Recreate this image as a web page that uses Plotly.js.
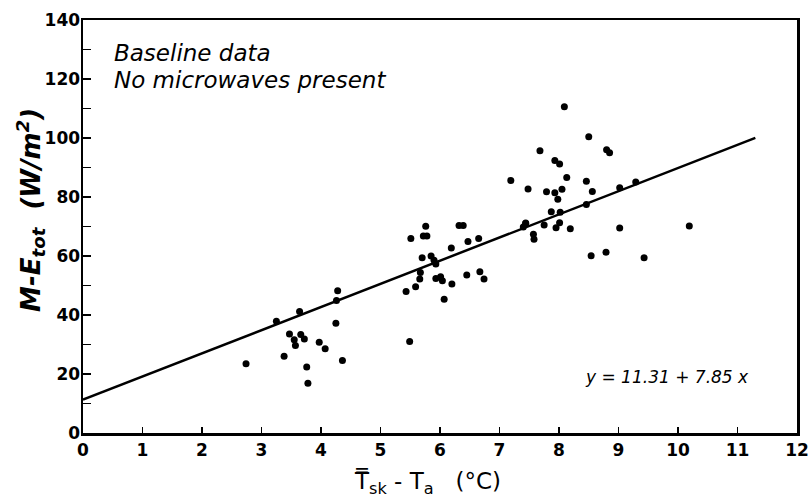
<!DOCTYPE html>
<html>
<head>
<meta charset="utf-8">
<script src="https://cdn.plot.ly/plotly-3.0.1.min.js"></script>
<style>html,body{margin:0;padding:0;background:#fff;}</style>
</head>
<body>
<div id="chart" style="width:809px;height:503px;"></div>
<script>
// Temperature difference (°C)
const xVals = [
  4.28, 4.26, 3.64, 3.25, 4.25, 3.47, 3.66, 3.72, 3.55, 3.57, 3.97, 4.07, 2.74, 3.38, 4.36, 3.76, 3.78,
  5.76, 5.51, 5.72, 5.78, 6.32, 6.39, 6.19, 6.47, 6.65, 5.70, 5.85, 5.90, 5.93, 5.67, 5.66, 5.59, 5.43,
  5.93, 6.01, 6.04, 6.20, 6.45, 6.67, 6.74, 6.07, 5.49, 7.44, 7.57, 7.58,
  8.09, 8.50, 7.68, 8.80, 8.85, 7.93, 8.01, 7.19, 8.13, 8.46, 7.48, 7.79, 7.93, 8.05, 7.98, 8.56,
  9.02, 9.29, 8.46, 7.87, 8.02, 7.44, 7.40, 7.75, 8.01, 7.95, 8.19, 9.02, 10.19, 8.54, 8.79, 9.43
];
// M - E_tot (W/m2)
const yVals = [
  48.2, 44.9, 41.2, 37.9, 37.2, 33.6, 33.4, 31.9, 31.6, 29.7, 30.8, 28.6, 23.5, 26.0, 24.6, 22.4, 16.9,
  70.1, 65.9, 66.8, 66.8, 70.3, 70.3, 62.7, 64.9, 65.9, 59.4, 60.0, 58.6, 57.3, 54.4, 52.2, 49.6, 48.0,
  52.4, 53.0, 51.6, 50.5, 53.6, 54.7, 52.2, 45.3, 31.0, 71.0, 67.4, 65.7,
  110.6, 100.4, 95.7, 96.0, 95.0, 92.4, 91.2, 85.6, 86.6, 85.3, 82.7, 81.8, 81.4, 82.6, 79.2, 81.9,
  83.1, 85.1, 77.5, 75.0, 74.8, 71.2, 69.8, 70.5, 71.3, 69.6, 69.2, 69.5, 70.2, 60.1, 61.3, 59.4
];
// Regression line y = 11.31 + 7.85 x, drawn between these end x values
const fitIntercept = 11.31;
const fitSlope = 7.85;
const fitX = [0, 11.3];
const fitY = fitX.map(x => fitIntercept + fitSlope * x);

const xTicks = [0,1,2,3,4,5,6,7,8,9,10,11,12];
const yTicks = [0,20,40,60,80,100,120,140];

const FONT = 'DejaVu Sans, Verdana, sans-serif';
const tickFont = {family: FONT, size: 17, color: '#000', weight: 'bold'};
const NB = '\u00A0';

const data = [
  {x: fitX, y: fitY, mode: 'lines', line: {color: '#000', width: 2.5}, hoverinfo: 'skip', showlegend: false},
  {x: xVals, y: yVals, mode: 'markers', marker: {color: '#000', size: 7}, showlegend: false}
];

const layout = {
  width: 809, height: 503,
  margin: {l: 83, r: 12, t: 20, b: 70},
  paper_bgcolor: '#fff', plot_bgcolor: '#fff',
  showlegend: false,
  xaxis: {
    range: [0, 12], tickvals: xTicks, ticktext: xTicks.map(String),
    ticks: 'inside', ticklen: 6, tickwidth: 1.5, tickcolor: '#000',
    showline: true, linewidth: 2.5, linecolor: '#000', mirror: true,
    showgrid: false, zeroline: false, tickfont: tickFont
  },
  yaxis: {
    range: [0, 140], tickvals: yTicks, ticktext: yTicks.map(String),
    ticks: 'inside', ticklen: 8, tickwidth: 1.5, tickcolor: '#000',
    minor: {dtick: 10, ticks: 'inside', ticklen: 8, tickwidth: 1.5, tickcolor: '#000', showgrid: false},
    showline: true, linewidth: 2.5, linecolor: '#000', mirror: true,
    showgrid: false, zeroline: false, tickfont: tickFont, ticklabelstandoff: -3
  },
  annotations: [
    {xref: 'paper', yref: 'paper', x: 0, xshift: -52, y: 0.54, xanchor: 'center', yanchor: 'middle', showarrow: false,
     textangle: -90,
     text: '<b><i>M-E<sub>tot</sub>  (W/m<sup>2</sup>)</i></b>', font: {family: FONT, size: 26, color: '#000'}},
    {xref: 'paper', yref: 'paper', x: 0.483, y: 0, yshift: -50, xanchor: 'center', yanchor: 'middle', showarrow: false,
     text: 'T\u033F<sub>sk</sub>' + NB + '-' + NB + 'T<sub>a</sub>' + NB + NB + NB + '(°C)', font: {family: FONT, size: 23, color: '#000'}},
    {xref: 'paper', yref: 'paper', x: 0.04, y: 0.92, xanchor: 'left', yanchor: 'middle', showarrow: false,
     text: '<i>Baseline data</i>', font: {family: FONT, size: 23, color: '#000'}},
    {xref: 'paper', yref: 'paper', x: 0.04, y: 0.855, xanchor: 'left', yanchor: 'middle', showarrow: false,
     text: '<i>No microwaves present</i>', font: {family: FONT, size: 23, color: '#000'}},
    {xref: 'x', yref: 'y', x: 8.4, y: 19, xanchor: 'left', yanchor: 'middle', showarrow: false,
     text: '<i>y = 11.31 + 7.85 x</i>', font: {family: FONT, size: 17, color: '#000'}}
  ]
};

Plotly.newPlot('chart', data, layout, {displayModeBar: false, staticPlot: true});
</script>
</body>
</html>
